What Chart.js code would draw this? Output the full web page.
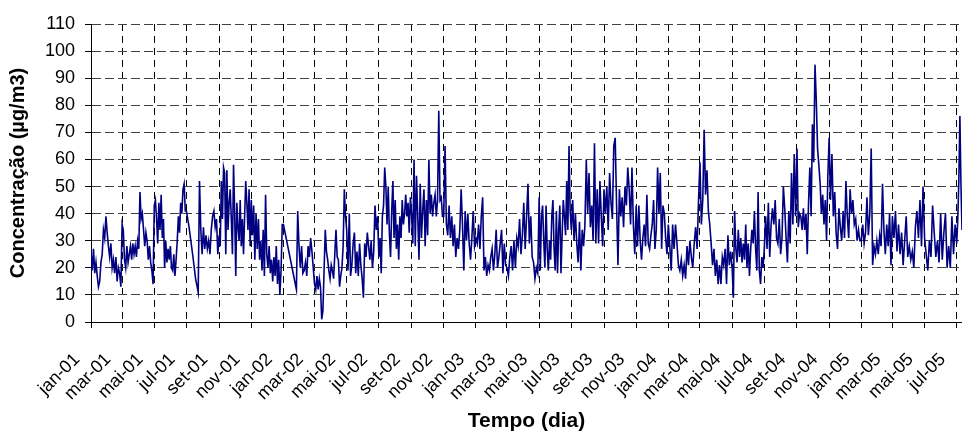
<!DOCTYPE html>
<html>
<head>
<meta charset="utf-8">
<script src="https://cdn.jsdelivr.net/npm/chart.js@4"></script>
<style>
  body { margin: 0; background: #fff; }
  #wrap { width: 962px; height: 432px; }
</style>
</head>
<body>
<div id="wrap"><canvas id="chart"></canvas></div>
<script>
// tick labels on the date axis (every 2 months)
const tickLabels = ['jan-01','mar-01','mai-01','jul-01','set-01','nov-01',
  'jan-02','mar-02','mai-02','jul-02','set-02','nov-02',
  'jan-03','mar-03','mai-03','jul-03','set-03','nov-03',
  'jan-04','mar-04','mai-04','jul-04','set-04','nov-04',
  'jan-05','mar-05','mai-05','jul-05'];

// daily concentration (µg/m3), one array per 2-month block
// null = missing days (line is drawn straight across)
const jan01 = [26, 19, 27, 18, 22, 17, 13, 15, 22, 25, 34, 31, 39, 33, 28, 24, 29, 20, 23, 18, 24, 15, 20, 18, 13];
const mar01 = [36, 34, 23, 20, 28, 22, 25, 28, 23, 29, 25, 28, 24, 30, 27, 48, 38, 40, 34, 28, 33, 30, 23, 28, 22, 19, 14];
const mai01 = [43, 45, 38, 29, 44, 34, 47, 31, 38, 20, 30, 22, 27, 23, 28, 20, 19, 25, 17, 23, 30, 39, 33, 44, 40, 49, 51, 41];
const jul01 = [41, null, 35, null, null, 24, null, 16, null, 11, 52, 34, 25, 35, 27, 32, 27, 30, 25, 34, 39, 41, 35, 38, 25];
const set01 = [32, 28, 52, 38, 57, 55, 25, 56, 34, 44, 49, 38, 25, 58, 41, 17, 44, 35, 30, 45, 28, 38, 25, 39, 52, 44, 34, 49, 28];
const nov01 = [45, 32, 43, 23, 40, 27, 38, 23, 30, 19, 34, 17, 47, 25, 20, 28, 18, 23, 15, 24, 17, 28, 14, 23, 10, 19, 36];
const jan02 = [36, null, null, null, null, null, null, null, null, null, 12, 41, 28, 20, 28, 18, 19, 22, 17, 28, 24, 31, 26, 20];
const mar02 = [14, 12, 17, 12, 16, 13, 1, 4, 19, 34, 26, 23, 19, 16, 21, 19, 16, 25, 34, 24, 23, 13, 17, 20, 28, 49, 39];
const mai02 = [34, 19, 40, 17, 21, 29, 33, 18, 26, 17, 29, 21, 16, 9, 29, 24, 33, 28, 23, 30, 20, 26, 43, 34, 39];
const jul02 = [24, 31, 18, 39, 43, 57, 50, 36, 50, 33, 24, 41, 52, 31, 45, 27, 36, 23, 39, 31, 45, 36, 40, 47, 39, 44, 33, 46];
const set02 = [40, 29, 60, 28, 54, 39, 23, 51, 31, 41, 49, 28, 45, 32, 60, 40, 47, 39, 44, 47, 39, 45, 78, 45, 46, 39];
const nov02 = [39, 65, 36, 32, 43, 31, 39, 28, 36, 24, 31, 27, 34, 49, 36, 19, 41, 30, 40, 29, 23, 31, 41, 28];
const jan03 = [31, 29, 36, 27, 39, 46, 19, 24, 17, 21, 19, 24, 27, 19, 25, 34, 20, 24, 29, 34, 18, 29, 21];
const mar03 = [20, 17, 24, 28, 19, 30, 20, 31, 28, 38, 25, 32, 44, 27, 39, 51, 29, 39, 24, 22, 16, 20, 18];
const mai03 = [46, 19, 39, 43, 30, 20, 43, 27, 19, 30, 23, 39, 45, 27, 19, 41, 18, 34, 43, 18, 32, 45, 39, 32, 52, 34, 65, 41];
const jul03 = [34, 45, 30, 40, 29, 22, 37, 19, 34, 28, 36, 60, 40, 55, 35, 43, 30, 66, 29, 49, 29, 52, 39, 28];
const set03 = [49, 40, 50, 34, 55, 44, 38, 65, 68, 43, 21, 49, 39, 46, 35, 50, 43, 57, 49, 36, 57, 36, 25];
const nov03 = [43, 28, 43, 30, 23, 31, 36, 28, 47, 29, 27, 32, 36, 45, 27, 34, 57, 40, 55, 27, 43, 40, 31, 25];
const jan04 = [36, 28, 19, 36, 27, 36, 29, 21, 19, 23, 17, 21, 16, 28, 21, 30, 24, 20, 29, 35, 27, 45];
const mar04 = [59, 36, 45, 71, 47, 56, 41, 36, 29, 21, 27, 17, 23, 14, 21, 14, 24, 21, 27, 14, 32, 21, 26];
const mai04 = [20, 9, 41, 27, 22, 34, 24, 31, 22, 29, 23, 36, 20, 29, 17, 27, 34, 29, 41, 27, 19, 48, 19, 14, 24, 20];
const jul04 = [27, 39, 27, 44, 24, 36, 42, 36, 45, 31, 29, 38, 25, 31, 50, 42, 31, 22, 41, 29, 55, 36, 62, 39];
const set04 = [64, 35, 40, 39, 34, 42, 34, 40, 25, 44, 57, 39, 73, 59, 95, 82, 64, 58, 51, 40, 47, 36, 45, 30, 54];
const nov04 = [68, 45, 62, 39, 48, 33, 27, 42, 35, 30, 41, 31, 52, 39, 31, 49, 40, 45, 36, 38, 30, 34, 30];
const jan05 = [30, 36, 29, 33, 46, 32, 40, 64, 21, 28, 25, 30, 25, 32, 28, 51, 34, 25, 36, 28, 40, 21];
const mar05 = [39, 31, 41, 26, 36, 25, 33, 21, 30, 39, 24, 28, 23, 26, 20, 35, 41, 31, 45, 28, 50];
const mai05 = [31, 25, 19, 30, 24, 43, 33, 24, 30, 22, 40, 23, 33, 40, 20, 28, 20, 39, 25, 36];
const jul05 = [29, 38, 52, 76, 51, 34];

const blocks = [jan01, mar01, mai01, jul01, set01, nov01, jan02, mar02, mai02, jul02, set02, nov02,
  jan03, mar03, mai03, jul03, set03, nov03, jan04, mar04, mai04, jul04, set04, nov04,
  jan05, mar05, mai05, jul05];

const lastDay = 1652;   // last day shown (days since 1 jan 2001)
const monthIdx = { jan: 0, fev: 1, mar: 2, abr: 3, mai: 4, jun: 5, jul: 6, ago: 7, set: 8, out: 9, nov: 10, dez: 11 };

function dayOf(label) {
  const [m, yy] = label.split('-');
  return (Date.UTC(2000 + +yy, monthIdx[m], 1) - Date.UTC(2001, 0, 1)) / 86400000;
}
const tickDays = tickLabels.map(dayOf);

// spread each block's readings over its 2 months
const points = [];
blocks.forEach((vals, k) => {
  const start = tickDays[k];
  const isLast = k === blocks.length - 1;
  const end = isLast ? lastDay : tickDays[k + 1];
  const step = (end - start) / (isLast ? vals.length - 1 : vals.length);
  vals.forEach((v, i) => points.push({ x: start + i * step, y: v }));
});

Chart.defaults.font.family = '"Liberation Sans", Arial, sans-serif';
Chart.defaults.color = '#000';

new Chart(document.getElementById('chart'), {
  type: 'line',
  data: {
    datasets: [{
      data: points,
      borderColor: '#000080',
      borderWidth: 1.6,
      pointRadius: 0,
      tension: 0,
      spanGaps: true
    }]
  },
  options: {
    responsive: true,
    maintainAspectRatio: false,
    animation: false,
    layout: { padding: { left: 5, top: 24, right: 0, bottom: 0 } },
    plugins: { legend: { display: false }, tooltip: { enabled: false } },
    scales: {
      x: {
        type: 'linear',
        min: 0,
        max: lastDay,
        afterBuildTicks: s => { s.ticks = tickDays.map(v => ({ value: v })); },
        afterFit: s => { s.paddingRight = 0; s.height = 110; },
        ticks: {
          autoSkip: false,
          minRotation: 45,
          maxRotation: 45,
          padding: 21,
          labelOffset: -14,
          font: { size: 18 },
          callback: (v, i) => tickLabels[i]
        },
        grid: { color: '#000', lineWidth: 1, tickLength: 6 },
        border: { color: '#000', width: 1, dash: [7, 5] },
        title: { display: true, text: 'Tempo (dia)', font: { size: 21, weight: 'bold', lineHeight: 1 }, padding: { top: 4, bottom: 0 } }
      },
      y: {
        min: 0,
        max: 110,
        afterFit: s => { s.width = 86; },
        ticks: { stepSize: 10, padding: 10, font: { size: 18 } },
        grid: { color: '#404040', lineWidth: 1, tickLength: 6, tickColor: '#000' },
        border: { color: '#000', width: 1, dash: [9, 4] },
        title: { display: true, text: 'Concentração (µg/m3)', font: { size: 20, weight: 'bold' }, padding: { top: 1, bottom: 4 } }
      }
    }
  }
});
</script>
</body>
</html>
